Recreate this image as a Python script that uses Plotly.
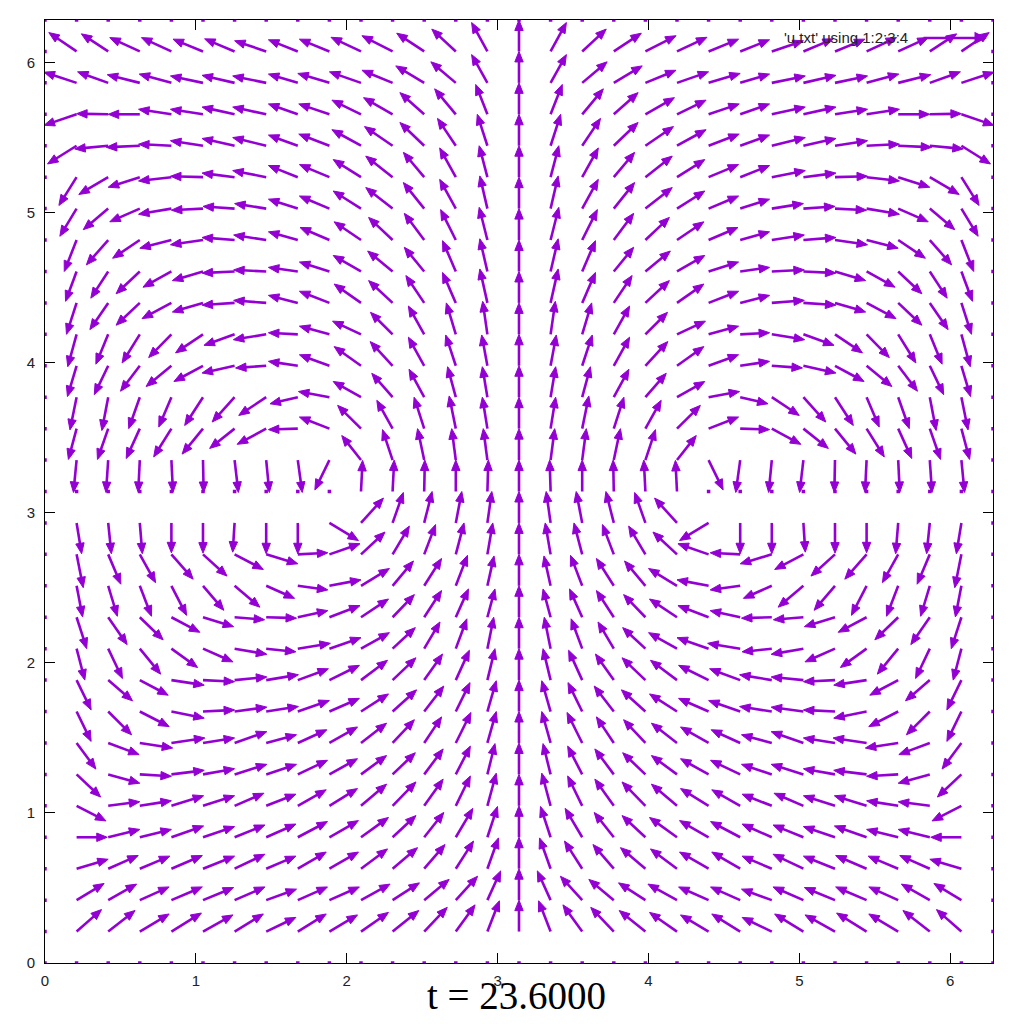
import numpy as np
import plotly.graph_objects as go

# ---------------- data ----------------
# grid: 31 x 31 points, x = i*2pi/30, y = j*2pi/30, i, j = 0..30
N_INTERVALS = 30
TICKS = [0, 1, 2, 3, 4, 5, 6]
TICK_LABELS = ["0", "1", "2", "3", "4", "5", "6"]
TITLE = "t = 23.6000"
KEY_LABEL = "'u.txt' using 1:2:3:4"

# left half, rows j = 1..29 (bottom to top), columns i = 1..14
# displacement components in units of the grid spacing
U_LEFT = [
    [0.79, 0.85, 0.93, 0.95, 0.95, 0.91, 0.94, 0.90, 0.89, 0.87, 0.83, 0.73, 0.61, 0.38],      # j=1
    [0.87, 0.90, 0.93, 0.98, 0.97, 0.96, 0.96, 0.94, 0.95, 0.92, 0.85, 0.79, 0.69, 0.42],      # j=2
    [1.00, 0.95, 0.95, 0.98, 1.00, 0.96, 0.94, 0.90, 0.92, 0.84, 0.79, 0.66, 0.56, 0.35],      # j=3
    [0.97, 1.00, 1.00, 1.02, 1.00, 0.96, 0.94, 0.94, 0.92, 0.87, 0.74, 0.62, 0.54, 0.32],      # j=4
    [0.93, 1.00, 1.00, 1.02, 1.00, 0.93, 0.94, 0.90, 0.89, 0.81, 0.74, 0.60, 0.46, 0.28],      # j=5
    [0.76, 1.00, 1.00, 1.04, 1.00, 1.02, 0.96, 0.94, 0.89, 0.81, 0.72, 0.60, 0.46, 0.24],      # j=6
    [0.61, 0.98, 1.04, 1.06, 1.00, 1.02, 0.96, 0.92, 0.89, 0.81, 0.69, 0.55, 0.48, 0.28],      # j=7
    [0.46, 0.74, 0.93, 1.04, 1.00, 1.02, 1.02, 1.00, 0.95, 0.87, 0.76, 0.62, 0.45, 0.28],      # j=8
    [0.46, 0.77, 0.90, 1.04, 1.00, 1.02, 1.02, 0.97, 0.95, 0.84, 0.74, 0.58, 0.43, 0.24],      # j=9
    [0.26, 0.45, 0.66, 0.83, 0.95, 1.02, 0.94, 1.03, 1.00, 0.90, 0.72, 0.50, 0.35, 0.20],      # j=10
    [0.32, 0.60, 0.74, 0.90, 0.97, 0.95, 0.96, 0.95, 0.97, 0.87, 0.69, 0.55, 0.40, 0.24],      # j=11
    [0.19, 0.29, 0.37, 0.48, 0.66, 0.80, 0.90, 0.95, 1.00, 0.90, 0.66, 0.55, 0.37, 0.21],      # j=12
    [0.21, 0.40, 0.50, 0.69, 0.76, 0.91, 1.00, 0.95, 0.97, 0.76, 0.53, 0.36, 0.26, 0.17],      # j=13
    [0.16, 0.10, 0.08, 0.00, 0.00, -0.06, 0.00, 0.00, 0.92, 0.71, 0.34, 0.25, 0.19, 0.14],     # j=14
    [0.00, 0.00, 0.00, 0.00, 0.00, 0.00, 0.00, 0.00, 0.00, 0.05, 0.05, 0.02, 0.00, 0.03],      # j=15
    [-0.10, -0.07, -0.05, 0.05, 0.02, 0.12, 0.10, 0.14, -0.46, -0.61, -0.32, -0.21, -0.13, -0.13],  # j=16
    [-0.26, -0.34, -0.43, -0.56, -0.66, -0.79, -0.92, -0.93, -0.95, -0.74, -0.50, -0.32, -0.21, -0.16],  # j=17
    [-0.21, -0.20, -0.35, -0.40, -0.58, -0.71, -0.87, -0.88, -0.98, -0.88, -0.66, -0.48, -0.26, -0.16],  # j=18
    [-0.29, -0.44, -0.61, -0.80, -0.92, -1.03, -0.97, -0.93, -0.95, -0.85, -0.71, -0.50, -0.32, -0.18],  # j=19
    [-0.28, -0.39, -0.56, -0.72, -0.87, -0.97, -1.04, -0.93, -0.95, -0.90, -0.70, -0.50, -0.30, -0.15],  # j=20
    [-0.32, -0.58, -0.75, -0.93, -0.97, -1.03, -1.03, -0.93, -0.95, -0.85, -0.76, -0.58, -0.42, -0.24],  # j=21
    [-0.35, -0.55, -0.75, -0.90, -0.97, -1.03, -1.03, -0.93, -0.95, -0.88, -0.79, -0.63, -0.42, -0.24],  # j=22
    [-0.39, -0.69, -0.86, -1.00, -1.03, -1.03, -1.03, -0.93, -0.93, -0.85, -0.76, -0.63, -0.48, -0.26],  # j=23
    [-0.53, -0.79, -0.95, -1.04, -1.00, -1.00, -1.00, -0.93, -0.95, -0.88, -0.85, -0.66, -0.51, -0.24],  # j=24
    [-0.56, -0.93, -1.00, -1.04, -1.03, -1.03, -1.06, -0.93, -0.95, -0.88, -0.85, -0.66, -0.51, -0.26],  # j=25
    [-0.92, -1.06, -1.06, -1.04, -1.03, -1.03, -1.06, -0.93, -0.97, -0.92, -0.89, -0.77, -0.58, -0.32],  # j=26
    [-1.03, -1.00, -1.00, -1.04, -1.03, -1.03, -1.06, -0.93, -0.97, -0.92, -0.92, -0.77, -0.67, -0.37],  # j=27
    [-1.03, -0.97, -1.03, -1.02, -1.03, -1.03, -1.06, -0.93, -1.00, -1.00, -0.97, -0.90, -0.79, -0.50],  # j=28
    [-0.88, -0.85, -0.95, -0.95, -0.95, -0.95, -1.00, -0.93, -0.95, -0.95, -0.97, -0.87, -0.76, -0.50],  # j=29
]
V_LEFT = [
    [0.70, 0.67, 0.56, 0.59, 0.53, 0.56, 0.45, 0.56, 0.53, 0.61, 0.67, 0.77, 0.85, 0.98],      # j=1
    [0.53, 0.51, 0.42, 0.42, 0.40, 0.42, 0.35, 0.42, 0.42, 0.51, 0.55, 0.66, 0.76, 0.93],      # j=2
    [0.30, 0.42, 0.40, 0.42, 0.40, 0.46, 0.40, 0.53, 0.53, 0.63, 0.67, 0.77, 0.88, 0.98],      # j=3
    [0.00, 0.25, 0.25, 0.36, 0.34, 0.39, 0.42, 0.50, 0.53, 0.63, 0.69, 0.79, 0.92, 0.98],      # j=4
    [-0.48, 0.13, 0.16, 0.32, 0.32, 0.40, 0.37, 0.51, 0.55, 0.69, 0.76, 0.85, 0.95, 1.04],     # j=5
    [-0.72, -0.28, -0.06, 0.13, 0.18, 0.32, 0.32, 0.45, 0.50, 0.60, 0.69, 0.81, 0.90, 0.98],   # j=6
    [-0.83, -0.37, -0.16, 0.16, 0.16, 0.36, 0.26, 0.42, 0.51, 0.63, 0.74, 0.83, 0.97, 1.00],   # j=7
    [-0.95, -0.74, -0.48, -0.21, 0.05, 0.14, 0.16, 0.35, 0.42, 0.56, 0.69, 0.81, 0.92, 0.98],  # j=8
    [-0.95, -0.66, -0.48, -0.16, -0.05, 0.10, 0.17, 0.36, 0.47, 0.63, 0.71, 0.83, 0.95, 1.00], # j=9
    [-1.00, -0.95, -0.81, -0.60, -0.42, -0.18, -0.10, 0.17, 0.35, 0.51, 0.67, 0.85, 0.95, 1.00],  # j=10
    [-1.00, -0.87, -0.72, -0.48, -0.30, -0.08, -0.03, 0.21, 0.37, 0.58, 0.72, 0.85, 0.90, 0.90],  # j=11
    [-0.99, -0.97, -0.97, -0.94, -0.78, -0.68, -0.40, -0.13, 0.19, 0.55, 0.79, 0.87, 0.97, 0.95], # j=12
    [-1.06, -0.95, -0.90, -0.79, -0.69, -0.48, -0.30, 0.05, 0.34, 0.71, 0.90, 0.95, 1.00, 1.00],  # j=13
    [-0.98, -0.98, -0.98, -0.95, -0.96, -0.93, -0.98, -0.98, -0.56, 0.79, 0.97, 1.00, 1.00, 1.00],  # j=14
    [0.00, 0.00, 0.00, 0.00, 0.00, 0.00, 0.00, 0.00, 0.00, 0.99, 1.00, 1.00, 1.00, 1.00],      # j=15
    [-1.03, -1.03, -1.03, -1.03, -1.03, -1.03, -1.03, -1.03, -0.95, 0.78, 0.97, 1.00, 1.00, 1.00],  # j=16
    [-0.98, -0.98, -0.95, -0.90, -0.81, -0.63, -0.50, -0.03, 0.37, 0.74, 0.90, 1.00, 1.04, 1.00],  # j=17
    [-1.04, -1.06, -1.00, -0.95, -0.90, -0.79, -0.58, -0.21, 0.18, 0.50, 0.76, 0.89, 0.97, 0.97],  # j=18
    [-0.98, -0.92, -0.81, -0.66, -0.50, -0.23, -0.07, 0.14, 0.35, 0.61, 0.77, 0.91, 0.98, 0.98],   # j=19
    [-1.03, -0.95, -0.91, -0.74, -0.59, -0.35, -0.17, 0.05, 0.26, 0.42, 0.70, 0.90, 1.00, 1.05],   # j=20
    [-1.00, -0.85, -0.71, -0.50, -0.29, -0.07, 0.08, 0.24, 0.37, 0.60, 0.71, 0.87, 0.97, 1.08],    # j=21
    [-0.95, -0.85, -0.71, -0.50, -0.29, -0.05, 0.05, 0.13, 0.30, 0.51, 0.65, 0.77, 0.98, 1.04],    # j=22
    [-1.00, -0.79, -0.58, -0.26, -0.15, 0.08, 0.16, 0.26, 0.40, 0.58, 0.72, 0.85, 0.97, 1.04],     # j=23
    [-0.88, -0.67, -0.42, -0.18, -0.05, 0.07, 0.16, 0.30, 0.40, 0.56, 0.67, 0.83, 0.93, 1.04],     # j=24
    [-0.90, -0.55, -0.32, -0.12, 0.03, 0.13, 0.21, 0.37, 0.40, 0.56, 0.67, 0.79, 0.93, 1.00],      # j=25
    [-0.58, -0.10, -0.05, 0.05, 0.16, 0.23, 0.26, 0.34, 0.37, 0.51, 0.61, 0.74, 0.87, 1.00],       # j=26
    [-0.35, 0.02, 0.00, 0.16, 0.16, 0.23, 0.23, 0.33, 0.33, 0.45, 0.53, 0.69, 0.81, 0.95],         # j=27
    [0.34, 0.35, 0.26, 0.28, 0.22, 0.24, 0.22, 0.28, 0.30, 0.35, 0.40, 0.54, 0.67, 0.90],          # j=28
    [0.60, 0.56, 0.44, 0.44, 0.39, 0.40, 0.34, 0.37, 0.39, 0.45, 0.50, 0.58, 0.71, 0.92],          # j=29
]
# centre column (x = pi), rows j = 1..29: straight upward jet
V_CENTER = [1.0, 1.0, 1.0, 1.0, 1.0, 1.0, 1.0, 1.0, 1.0, 1.0,
            1.0, 1.0, 1.0, 1.0, 1.0, 1.0, 1.0, 1.0, 1.0, 1.0,
            1.0, 1.0, 1.0, 1.0, 1.0, 1.0, 1.0, 1.0, 1.0]

# ---------------- build full field (mirror symmetric about x = pi) ----------------
L = 2 * np.pi
n = N_INTERVALS
h = L / n
U = np.zeros((n + 1, n + 1))
V = np.zeros((n + 1, n + 1))
for j in range(1, n):
    for i in range(1, n // 2):
        U[j, i] = U_LEFT[j - 1][i - 1]
        V[j, i] = V_LEFT[j - 1][i - 1]
        U[j, n - i] = -U_LEFT[j - 1][i - 1]
        V[j, n - i] = V_LEFT[j - 1][i - 1]
    V[j, n // 2] = V_CENTER[j - 1]

COLOR = "#9400D3"
# plot area in pixels
PL, PR, PT, PB = 45, 993, 20, 963
sx = (PR - PL) / L
sy = (PB - PT) / L
HEAD_LEN = 10.5
HEAD_HW = 4.2

shaft_x, shaft_y = [], []
head_x, head_y = [], []
dot_x, dot_y = [], []
for j in range(n + 1):
    for i in range(n + 1):
        x0, y0 = i * h, j * h
        dx, dy = U[j, i] * h, V[j, i] * h
        if dx == 0 and dy == 0:
            dot_x.append(x0)
            dot_y.append(y0)
            continue
        x1, y1 = x0 + dx, y0 + dy
        dxp, dyp = dx * sx, dy * sy
        lp = np.hypot(dxp, dyp)
        ux, uy = dxp / lp, dyp / lp
        hl = min(HEAD_LEN, lp)
        bx, by = -hl * ux, -hl * uy
        px, py = -uy, ux
        lx = x1 + (bx + HEAD_HW * px) / sx
        ly = y1 + (by + HEAD_HW * py) / sy
        rx = x1 + (bx - HEAD_HW * px) / sx
        ry = y1 + (by - HEAD_HW * py) / sy
        mx = x1 + (bx * 0.8) / sx
        my = y1 + (by * 0.8) / sy
        shaft_x += [x0, mx, None]
        shaft_y += [y0, my, None]
        head_x += [x1, lx, rx, x1, None]
        head_y += [y1, ly, ry, y1, None]

fig = go.Figure()
fig.add_trace(go.Scatter(x=shaft_x, y=shaft_y, mode="lines",
                         line=dict(color=COLOR, width=2.6),
                         hoverinfo="skip", showlegend=False))
fig.add_trace(go.Scatter(x=head_x, y=head_y, mode="lines", fill="toself",
                         fillcolor=COLOR, line=dict(color=COLOR, width=1),
                         hoverinfo="skip", showlegend=False))
fig.add_trace(go.Scatter(x=dot_x, y=dot_y, mode="markers",
                         marker=dict(symbol="square", size=3.5, color=COLOR, line=dict(width=0)),
                         hoverinfo="skip", showlegend=False))

axis_common = dict(range=[0, L], tickvals=TICKS, ticktext=TICK_LABELS,
                   ticks="inside", ticklen=10, tickwidth=1, tickcolor="black",
                   showline=True, linecolor="black", linewidth=1, mirror="ticks",
                   showgrid=False, zeroline=False,
                   tickfont=dict(family="Liberation Sans", size=15, color="#222222"))

fig.update_layout(
    width=1024, height=1024,
    margin=dict(l=PL, r=1024 - PR, t=PT, b=1024 - PB),
    paper_bgcolor="white", plot_bgcolor="white",
    xaxis=dict(**axis_common, ticklabelstandoff=4),
    yaxis=dict(**axis_common, ticklabelstandoff=6),
    showlegend=False,
)

# key (legend) text and sample arrow
fig.add_annotation(xref="paper", yref="paper",
                   x=(910 - PL) / (PR - PL), y=(PB - 38) / (PB - PT),
                   xanchor="right", yanchor="middle", showarrow=False,
                   text=KEY_LABEL,
                   font=dict(family="Liberation Sans", size=15, color="#222222"))
fig.add_annotation(xref="paper", yref="paper",
                   x=(987 - PL) / (PR - PL), y=(PB - 38) / (PB - PT),
                   ax=-65, ay=0, text="", showarrow=True,
                   arrowhead=2, arrowsize=1, arrowwidth=2.5, arrowcolor=COLOR)

# title (time stamp) below the plot
fig.add_annotation(xref="paper", yref="paper",
                   x=(516 - PL) / (PR - PL), y=(PB - 995) / (PB - PT),
                   xanchor="center", yanchor="middle", showarrow=False,
                   text=TITLE,
                   font=dict(family="Liberation Serif", size=39, color="black"))

fig.write_html("out.html")
